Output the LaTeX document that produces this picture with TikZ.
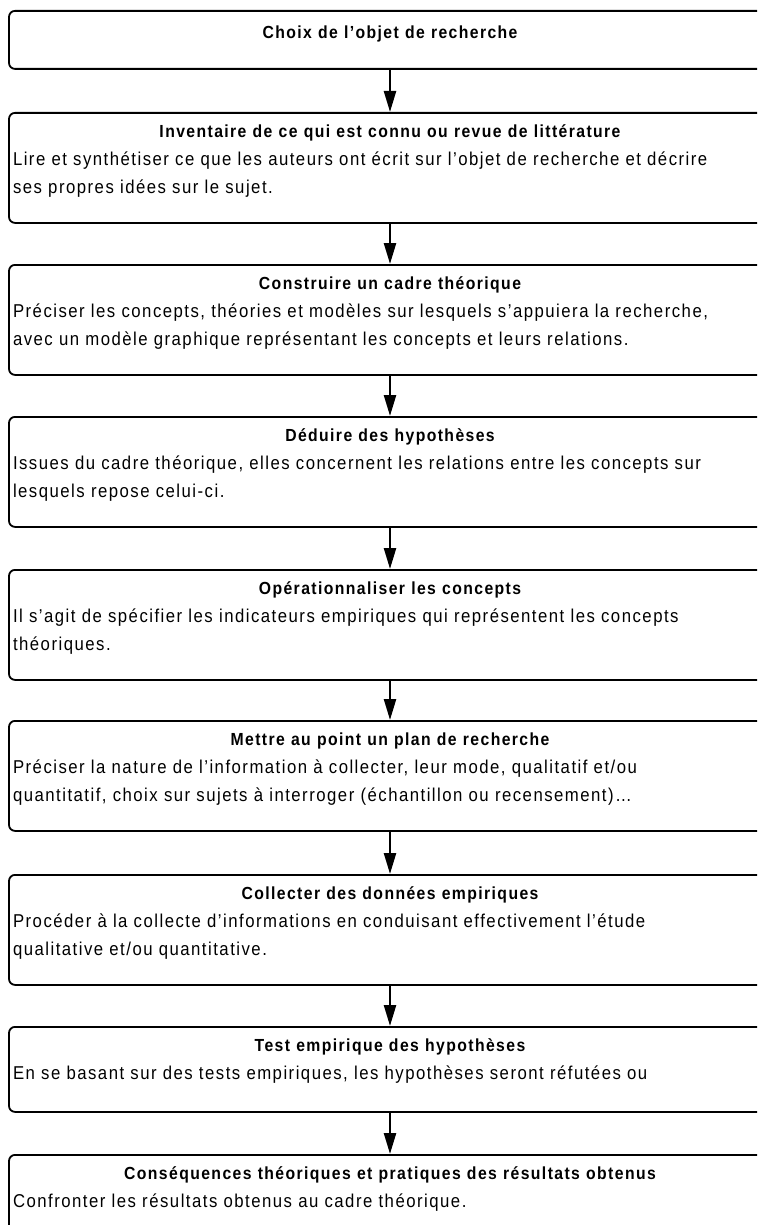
\documentclass[tikz,border=0pt]{standalone}
\usepackage{fontspec}
\setmainfont{Liberation Sans}[FakeStretch=0.9,LetterSpace=8]
\usetikzlibrary{positioning,arrows.meta}

\newcommand{\stepTitle}[1]{{\centering\bfseries\fontsize{17.5}{28}\selectfont #1\par}}

\begin{document}
\begin{tikzpicture}
  [x=1pt,y=1pt,
   stepN/.style={draw,rounded corners=6pt,line width=1.8pt,anchor=north,
     text width=754pt,inner xsep=4pt,inner ysep=0pt,align=left,
     font=\fontsize{18.6}{28}\selectfont,text height=25pt,text depth=85pt},
   shortN/.style={stepN,text depth=60pt},
   titleN/.style={stepN,text height=28pt,text depth=30pt},
   arrowE/.style={line width=2.4pt,-{Triangle[length=21pt,width=12pt]}}]

  \path[use as bounding box,clip] (0,0) rectangle (757,-1225);

  \node[titleN] (b1) at (390,-10) {\stepTitle{Choix de l’objet de recherche}};

  \node[stepN] (b2) at (390,-112) {\stepTitle{Inventaire de ce qui est connu ou revue de littérature}
    Lire et synthétiser ce que les auteurs ont écrit sur l’objet de recherche et décrire\\
    ses propres idées sur le sujet.};

  \node[stepN] (b3) at (390,-264) {\stepTitle{Construire un cadre théorique}
    Préciser les concepts, théories et modèles sur lesquels s’appuiera la recherche,\\
    avec un modèle graphique représentant les concepts et leurs relations.};

  \node[stepN] (b4) at (390,-416) {\stepTitle{Déduire des hypothèses}
    Issues du cadre théorique, elles concernent les relations entre les concepts sur\\
    lesquels repose celui-ci.};

  \node[stepN] (b5) at (390,-569) {\stepTitle{Opérationnaliser les concepts}
    Il s’agit de spécifier les indicateurs empiriques qui représentent les concepts\\
    théoriques.};

  \node[stepN] (b6) at (390,-720) {\stepTitle{Mettre au point un plan de recherche}
    Préciser la nature de l’information à collecter, leur mode, qualitatif et/ou\\
    quantitatif, choix sur sujets à interroger (échantillon ou recensement)…};

  \node[stepN] (b7) at (390,-874) {\stepTitle{Collecter des données empiriques}
    Procéder à la collecte d’informations en conduisant effectivement l’étude\\
    qualitative et/ou quantitative.};

  \node[shortN] (b8) at (390,-1026) {\stepTitle{Test empirique des hypothèses}
    En se basant sur des tests empiriques, les hypothèses seront réfutées ou};

  \node[shortN] (b9) at (390,-1154) {\stepTitle{Conséquences théoriques et pratiques des résultats obtenus}
    Confronter les résultats obtenus au cadre théorique.};

  % fleches entre les etapes
  \draw[arrowE] (b1.south) -- (b2.north);
  \draw[arrowE] (b2.south) -- (b3.north);
  \draw[arrowE] (b3.south) -- (b4.north);
  \draw[arrowE] (b4.south) -- (b5.north);
  \draw[arrowE] (b5.south) -- (b6.north);
  \draw[arrowE] (b6.south) -- (b7.north);
  \draw[arrowE] (b7.south) -- (b8.north);
  \draw[arrowE] (b8.south) -- (b9.north);
\end{tikzpicture}
\end{document}
